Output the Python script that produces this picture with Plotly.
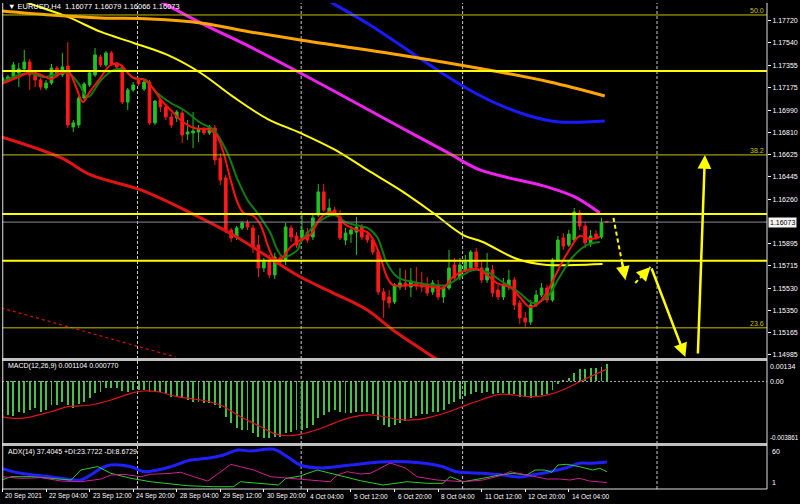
import plotly.graph_objects as go

# ---------------- data ----------------
bar_idx = list(range(112))

open_ = [1.17220, 1.17237, 1.17253, 1.17294, 1.17327, 1.17384, 1.17278, 1.17237, 1.17171, 1.17212,
         1.17335, 1.17278, 1.17351, 1.16852, 1.16868, 1.17089, 1.17196, 1.17278, 1.17425, 1.17360,
         1.17458, 1.17376, 1.17343, 1.17056, 1.17155, 1.17237, 1.17163, 1.17220, 1.16885, 1.17073,
         1.17016, 1.16934, 1.16926, 1.16967, 1.16795, 1.16803, 1.16811, 1.16835, 1.16803, 1.16844,
         1.16598, 1.16434, 1.16008, 1.15951, 1.16025, 1.16066, 1.16025, 1.15885, 1.15697, 1.15746,
         1.15640, 1.15779, 1.15763, 1.16025, 1.15959, 1.15951, 1.15991, 1.15951, 1.16131, 1.16320,
         1.16156, 1.16172, 1.16115, 1.15926, 1.15975, 1.15991, 1.16033, 1.15967, 1.15926, 1.15828,
         1.15501, 1.15460, 1.15419, 1.15541, 1.15574, 1.15541, 1.15574, 1.15574, 1.15558, 1.15501,
         1.15558, 1.15460, 1.15533, 1.15722, 1.15623, 1.15681, 1.15697, 1.15828, 1.15697, 1.15599,
         1.15681, 1.15517, 1.15460, 1.15541, 1.15599, 1.15411, 1.15288, 1.15255, 1.15394, 1.15476,
         1.15533, 1.15435, 1.15763, 1.15943, 1.15885, 1.15926, 1.16147, 1.16041, 1.15894, 1.15975,
         1.15951, 1.16077]
high_ = [1.17278, 1.17278, 1.17384, 1.17376, 1.17483, 1.17409, 1.17294, 1.17253, 1.17237, 1.17368,
         1.17351, 1.17458, 1.17548, 1.16909, 1.17106, 1.17220, 1.17311, 1.17499, 1.17442, 1.17474,
         1.17474, 1.17384, 1.17360, 1.17171, 1.17220, 1.17253, 1.17237, 1.17237, 1.17073, 1.17089,
         1.17032, 1.16967, 1.16991, 1.16991, 1.16909, 1.16975, 1.16868, 1.16852, 1.16868, 1.16868,
         1.16639, 1.16459, 1.16025, 1.16041, 1.16082, 1.16090, 1.16049, 1.15967, 1.15779, 1.15804,
         1.15820, 1.15804, 1.16066, 1.16049, 1.15991, 1.16131, 1.16025, 1.16131, 1.16385, 1.16385,
         1.16262, 1.16197, 1.16172, 1.16025, 1.16041, 1.16115, 1.16057, 1.15991, 1.15951, 1.15845,
         1.15533, 1.15517, 1.15574, 1.15697, 1.15681, 1.15697, 1.15705, 1.15664, 1.15623, 1.15599,
         1.15599, 1.15558, 1.15845, 1.15779, 1.15779, 1.15804, 1.15845, 1.15861, 1.15746, 1.15820,
         1.15722, 1.15558, 1.15615, 1.15681, 1.15623, 1.15435, 1.15337, 1.15435, 1.15517, 1.15574,
         1.15558, 1.15779, 1.15959, 1.15983, 1.16008, 1.16188, 1.16172, 1.16074, 1.16008, 1.16008,
         1.16107, 1.16079]
low_ = [1.17196, 1.17220, 1.17237, 1.17179, 1.17319, 1.17155, 1.17179, 1.17155, 1.17155, 1.17196,
        1.17261, 1.17261, 1.16844, 1.16811, 1.16844, 1.17073, 1.17179, 1.17261, 1.17343, 1.17343,
        1.17351, 1.17327, 1.17040, 1.16991, 1.17139, 1.17188, 1.17147, 1.16868, 1.16868, 1.16975,
        1.16909, 1.16844, 1.16893, 1.16721, 1.16745, 1.16680, 1.16729, 1.16786, 1.16786, 1.16541,
        1.16377, 1.15983, 1.15910, 1.15926, 1.16008, 1.16008, 1.15820, 1.15623, 1.15664, 1.15615,
        1.15607, 1.15722, 1.15722, 1.15910, 1.15861, 1.15926, 1.15902, 1.15926, 1.16115, 1.16156,
        1.16131, 1.16123, 1.15926, 1.15885, 1.15902, 1.15804, 1.15926, 1.15902, 1.15804, 1.15476,
        1.15288, 1.15369, 1.15402, 1.15517, 1.15517, 1.15460, 1.15517, 1.15501, 1.15468, 1.15476,
        1.15435, 1.15411, 1.15517, 1.15582, 1.15599, 1.15664, 1.15664, 1.15681, 1.15574, 1.15574,
        1.15460, 1.15435, 1.15435, 1.15517, 1.15353, 1.15238, 1.15214, 1.15230, 1.15378, 1.15460,
        1.15411, 1.15419, 1.15746, 1.15845, 1.15869, 1.15910, 1.16008, 1.15861, 1.15869, 1.15926,
        1.15935, 1.16066]
close_ = [1.17253, 1.17261, 1.17360, 1.17327, 1.17384, 1.17278, 1.17237, 1.17179, 1.17212, 1.17335,
          1.17278, 1.17343, 1.16868, 1.16885, 1.17089, 1.17204, 1.17294, 1.17442, 1.17360, 1.17458,
          1.17368, 1.17343, 1.17056, 1.17155, 1.17196, 1.17204, 1.17220, 1.16885, 1.17064, 1.17016,
          1.16934, 1.16868, 1.16975, 1.16786, 1.16811, 1.16819, 1.16835, 1.16803, 1.16852, 1.16582,
          1.16418, 1.16008, 1.15943, 1.16025, 1.16066, 1.16033, 1.15869, 1.15697, 1.15746, 1.15640,
          1.15787, 1.15746, 1.16033, 1.15951, 1.15885, 1.16008, 1.15926, 1.16107, 1.16320, 1.16172,
          1.16188, 1.16147, 1.15943, 1.15983, 1.16008, 1.16033, 1.15951, 1.15926, 1.15828, 1.15501,
          1.15435, 1.15411, 1.15558, 1.15574, 1.15549, 1.15591, 1.15549, 1.15541, 1.15492, 1.15574,
          1.15460, 1.15533, 1.15697, 1.15615, 1.15722, 1.15746, 1.15828, 1.15705, 1.15599, 1.15697,
          1.15492, 1.15460, 1.15558, 1.15599, 1.15394, 1.15288, 1.15255, 1.15394, 1.15476, 1.15533,
          1.15435, 1.15763, 1.15926, 1.15877, 1.15975, 1.16156, 1.16041, 1.15902, 1.15959, 1.15951,
          1.16066, 1.16073]

# moving averages on the price chart (bar position, price)
orange_idx = [-0.2, 8.9, 18.1, 27.2, 36.4, 45.5, 54.7, 73.0, 91.3, 100.5, 110.6]
orange_val = [1.17802, 1.17769, 1.17745, 1.17736, 1.17704, 1.17630, 1.17564, 1.17442, 1.17302, 1.17220, 1.17106]
blue_idx = [54.7, 60.2, 67.5, 74.9, 80.4, 85.8, 91.3, 96.8, 102.3, 110.6]
blue_val = [1.18015, 1.17876, 1.17687, 1.17466, 1.17302, 1.17155, 1.17032, 1.16942, 1.16893, 1.16901]
magenta_idx = [21.7, 28.5, 36.4, 45.5, 54.7, 63.9, 73.0, 82.2, 87.7, 100.0, 105.1, 109.7]
magenta_val = [1.18056, 1.17892, 1.17704, 1.17507, 1.17294, 1.17073, 1.16852, 1.16631, 1.16500, 1.16361, 1.16279, 1.16147]
yellow_idx = [-0.2, 3.4, 12.0, 18.1, 24.1, 30.3, 36.4, 42.4, 48.7, 54.7, 61.1, 67.0, 73.0, 79.1, 84.6, 88.2, 94.5, 100.0, 105.1, 110.2]
yellow_val = [1.17990, 1.17892, 1.17753, 1.17630, 1.17540, 1.17442, 1.17294, 1.17098, 1.16917, 1.16803, 1.16664,
              1.16500, 1.16336, 1.16147, 1.15967, 1.15910, 1.15771, 1.15722, 1.15722, 1.15730]
redlong_idx = [-0.2, 10.8, 16.2, 25.4, 34.6, 42.4, 50.5, 54.7, 60.8, 67.0, 71.7, 79.4, 81.3]
redlong_val = [1.16770, 1.16598, 1.16459, 1.16336, 1.16147, 1.15967, 1.15738, 1.15623, 1.15492, 1.15353, 1.15189, 1.14960, 1.14903]
redfast_idx = [-0.2, 2.9, 5.3, 7.1, 8.9, 10.8, 12.2, 13.5, 14.8, 15.9, 18.1, 19.9, 21.7, 23.0, 24.1, 26.0, 27.6,
               29.1, 30.9, 32.7, 35.1, 38.2, 39.5, 40.6, 41.9, 43.2, 44.3, 46.1, 47.4, 48.7, 49.8, 51.0, 52.9,
               54.7, 56.5, 58.4, 60.2, 61.5, 62.6, 65.1, 67.0, 68.1, 69.4, 70.6, 71.7, 75.4, 79.1, 80.9, 82.7,
               85.3, 87.1, 89.0, 90.8, 93.2, 95.0, 96.8, 98.7, 100.5, 102.3, 104.2, 106.0, 107.8, 109.7]
redfast_val = [1.17204, 1.17261, 1.17302, 1.17278, 1.17245, 1.17294, 1.17302, 1.17179, 1.17056, 1.17130, 1.17261,
               1.17360, 1.17360, 1.17294, 1.17253, 1.17237, 1.17171, 1.17073, 1.16991, 1.16909, 1.16844, 1.16827,
               1.16770, 1.16639, 1.16418, 1.16229, 1.16147, 1.16123, 1.16049, 1.15885, 1.15779, 1.15763, 1.15869,
               1.15926, 1.15967, 1.16107, 1.16156, 1.16131, 1.16066, 1.16008, 1.15991, 1.15926, 1.15787, 1.15623,
               1.15558, 1.15558, 1.15541, 1.15533, 1.15623, 1.15681, 1.15689, 1.15640, 1.15574, 1.15541, 1.15460,
               1.15378, 1.15419, 1.15541, 1.15705, 1.15853, 1.15959, 1.15935, 1.15951]
greenfast_idx = [-0.2, 4.7, 7.6, 12.0, 13.9, 15.7, 18.1, 20.5, 22.3, 24.1, 26.3, 28.2, 30.9, 33.3, 36.4, 38.8,
                 41.3, 43.2, 45.0, 46.8, 49.2, 50.5, 51.6, 54.2, 54.7, 57.8, 60.8, 63.3, 67.0, 68.8, 70.6, 72.5,
                 75.4, 79.1, 81.6, 84.0, 86.4, 89.0, 91.3, 95.0, 97.4, 100.0, 102.3, 104.7, 107.3, 109.7]
greenfast_val = [1.17220, 1.17294, 1.17261, 1.17294, 1.17212, 1.17098, 1.17237, 1.17319, 1.17319, 1.17253, 1.17237,
                 1.17139, 1.17048, 1.16991, 1.16885, 1.16827, 1.16639, 1.16418, 1.16254, 1.16147, 1.15983, 1.15845,
                 1.15787, 1.15845, 1.15902, 1.16066, 1.16131, 1.16066, 1.16025, 1.15951, 1.15738, 1.15623, 1.15582,
                 1.15558, 1.15558, 1.15623, 1.15681, 1.15664, 1.15599, 1.15492, 1.15411, 1.15460, 1.15623, 1.15787,
                 1.15885, 1.15910]
trend_idx = [-0.2, 31.8]
trend_val = [1.15370, 1.14968]

# horizontal levels
thick_levels = [1.17311, 1.16140, 1.15756]
fib_levels = [1.17769, 1.16623, 1.15207]
fib_labels = ["50.0", "38.2", "23.6"]
last_price = 1.16073
separator_idx = [24.8, 54.85, 84.5, 120.2]

# forecast arrows: (tail idx, tail price, tip idx, tip price, dashed)
arrows = [(112.2, 1.16107, 114.4, 1.15599, True),
          (116.2, 1.15574, 119.0, 1.15705, True),
          (119.1, 1.15705, 125.4, 1.14968, False),
          (127.7, 1.14985, 129.0, 1.16623, False)]

price_ticks = [1.17720, 1.17540, 1.17355, 1.17175, 1.16990, 1.16810, 1.16625, 1.16445, 1.16260,
               1.15895, 1.15715, 1.15530, 1.15350, 1.15165, 1.14985]
time_tick_idx = [0, 8, 16, 24, 32, 40, 48, 56, 64, 72, 80, 88, 96, 104]
time_tick_text = ["20 Sep 2021", "22 Sep 04:00", "23 Sep 12:00", "24 Sep 20:00", "28 Sep 04:00",
                  "29 Sep 12:00", "30 Sep 20:00", "4 Oct 04:00", "5 Oct 12:00", "6 Oct 20:00",
                  "8 Oct 04:00", "11 Oct 12:00", "12 Oct 20:00", "14 Oct 04:00"]

# MACD(12,26,9)
macd_main = [-0.002309, -0.002100, -0.002163, -0.001891, -0.001996, -0.001787, -0.001682, -0.001891, -0.001787, -0.001473,
             -0.001473, -0.001264, -0.001473, -0.001682, -0.001432, -0.001264, -0.001055, -0.000742, -0.000637, -0.000428,
             -0.000428, -0.000428, -0.000596, -0.000637, -0.000533, -0.000533, -0.000533, -0.000637, -0.000679, -0.000637,
             -0.000742, -0.000951, -0.000888, -0.001055, -0.001160, -0.001264, -0.001264, -0.001369, -0.001369, -0.001473,
             -0.001682, -0.002205, -0.002623, -0.002936, -0.003041, -0.003041, -0.003250, -0.003459, -0.003563, -0.003563,
             -0.003459, -0.003459, -0.003250, -0.003145, -0.003041, -0.003047, -0.002922, -0.002734, -0.002295, -0.002107,
             -0.001919, -0.001793, -0.001919, -0.001981, -0.001981, -0.001919, -0.001919, -0.001919, -0.002044, -0.002420,
             -0.002734, -0.002859, -0.002734, -0.002608, -0.002483, -0.002295, -0.002169, -0.002044, -0.002044, -0.001919,
             -0.001919, -0.001793, -0.001417, -0.001292, -0.001104, -0.000915, -0.000790, -0.000665, -0.000727, -0.000665,
             -0.000790, -0.000727, -0.000746, -0.000853, -0.000809, -0.000959, -0.000959, -0.001060, -0.000959, -0.000853,
             -0.000809, -0.000539, -0.000182, 0.000088, 0.000232, 0.000508, 0.000777, 0.000777, 0.000821, 0.000859,
             0.000922, 0.001104]
macd_sig_idx = [-0.2, 3.4, 8.9, 12.0, 16.2, 19.9, 24.2, 26.0, 28.5, 32.1, 36.4, 40.0, 43.7, 47.4, 49.8, 52.3, 54.7,
                58, 61, 64, 67, 70, 73, 76, 79, 82, 85, 88, 91.3, 97.4, 100.5, 103.6, 106.6, 111]
macd_sig_val = [-0.002213, -0.002314, -0.001900, -0.001586, -0.001480, -0.001166, -0.000683, -0.000602, -0.000646,
                -0.000959, -0.001166, -0.001480, -0.002213, -0.002840, -0.003254, -0.003405, -0.003317,
                -0.003000, -0.002600, -0.002250, -0.002100, -0.002200, -0.002400, -0.002400, -0.002200, -0.001900,
                -0.001500, -0.001150, -0.000809, -0.000959, -0.000809, -0.000433, 0.000088, 0.000770]

# ADX(14)
adx_idx = [-0.2, 3.4, 7.1, 10.8, 14.4, 16.2, 18.1, 19.9, 23.6, 26.0, 28.5, 30.9, 34.6, 37.7, 40.6, 43.2, 45.6, 49.8,
           52.3, 54.7, 58.4, 63.9, 69.4, 74.9, 80.4, 83.4, 88.2, 91.9, 95.0, 97.4, 100.5, 103.6, 106.0, 108.4, 111]
adx_val = [28.7, 21.6, 18.3, 14.6, 12.2, 19.3, 28.7, 33.3, 30.9, 23.9, 26.3, 30.9, 40.3, 42.7, 47.3, 54.4, 53.0, 55.4,
           45.0, 33.3, 29.1, 33.3, 37.5, 37.5, 31.9, 23.9, 21.6, 19.3, 16.5, 19.3, 23.9, 29.5, 35.7, 35.7, 37.4]
pdi_idx = [-0.2, 1.6, 5.3, 8.9, 12.6, 14.4, 16.2, 17.5, 19.9, 23.6, 27.2, 30.3, 34.0, 38.8, 42.4, 43.7, 47.4, 50.7,
           52.0, 54.7, 57.8, 61.5, 65.7, 69.9, 74.3, 78.0, 80.9, 82.2, 84.6, 88.2, 91.3, 93.7, 96.3, 97.8, 99.6,
           100.9, 102.0, 103.6, 106.0, 108.4, 109.7, 111]
pdi_val = [12.2, 16.9, 16.9, 14.6, 12.2, 26.3, 28.7, 31.1, 21.6, 14.6, 9.8, 7.6, 4.2, 2.8, 2.8, 9.8, 7.6, 5.2,
           14.3, 17.9, 26.3, 19.3, 11.3, 5.2, 9.8, 7.6, 7.6, 16.9, 9.8, 14.6, 19.3, 21.6, 19.3, 26.3, 26.3,
           23.1, 33.3, 34.3, 30.9, 26.3, 28.7, 23.8]
mdi_idx = [-0.2, 3.4, 7.1, 10.8, 14.4, 18.1, 19.9, 22.3, 25.4, 27.2, 30.9, 32.7, 35.1, 37.7, 40.1, 41.9, 43.7, 46.1,
           49.2, 52.9, 55.3, 60.2, 61.5, 63.3, 65.7, 67.5, 68.8, 71.2, 74.0, 76.1, 79.8, 84.6, 88.2, 91.9, 93.2,
           95.6, 98.1, 100.0, 102.3, 104.2, 106.0, 107.8, 111]
mdi_val = [16.9, 14.6, 15.5, 10.8, 9.8, 13.6, 19.3, 20.2, 16.9, 20.2, 21.6, 23.1, 16.9, 10.8, 23.9, 34.3, 30.9, 26.3,
           16.9, 14.6, 12.2, 9.8, 19.3, 23.9, 20.7, 21.6, 26.3, 36.1, 29.1, 16.9, 12.2, 9.8, 12.2, 19.3, 23.9,
           20.2, 16.9, 13.6, 13.6, 12.2, 14.6, 10.8, 8.7]

# ---------------- layout helpers ----------------
W, H = 800, 504
ML, MR, MT, MB = 2, 31, 3, 15
PLOT_H = H - MT - MB


def py(px):
    return (H - MB - px) / PLOT_H


FONT = "Liberation Sans"
XR = [-0.09, 140.4]

fig = go.Figure()

fig.add_trace(go.Candlestick(
    x=bar_idx, open=open_, high=high_, low=low_, close=close_,
    increasing=dict(line=dict(color="#22c322", width=1), fillcolor="#22c322"),
    decreasing=dict(line=dict(color="#ff1a1a", width=1), fillcolor="#ff1a1a"),
    whiskerwidth=0, xaxis="x", yaxis="y", hoverinfo="skip", showlegend=False))


def line(xs, ys, color, width, ax="x", ay="y", dash=None, shape="linear"):
    fig.add_trace(go.Scatter(x=xs, y=ys, mode="lines", xaxis=ax, yaxis=ay,
                             line=dict(color=color, width=width, dash=dash, shape=shape),
                             hoverinfo="skip", showlegend=False, cliponaxis=True))


line(trend_idx, trend_val, "#d01010", 1.2, dash="dot")
line(redlong_idx, redlong_val, "#e01414", 3, shape="spline")
line(yellow_idx, yellow_val, "#ffff00", 2, shape="spline")
line(magenta_idx, magenta_val, "#ee22ee", 3, shape="spline")
line(blue_idx, blue_val, "#1a1aff", 3, shape="spline")
line(orange_idx, orange_val, "#ffa500", 3, shape="spline")
line(greenfast_idx, greenfast_val, "#0f7d0f", 2, shape="spline")
line(redfast_idx, redfast_val, "#ff1010", 2, shape="spline")

# MACD pane
fig.add_trace(go.Bar(x=bar_idx, y=macd_main, width=0.17, marker=dict(color="#46c046", line=dict(width=0)),
                     xaxis="x2", yaxis="y2", hoverinfo="skip", showlegend=False))
line(macd_sig_idx, macd_sig_val, "#e01414", 1.2, ax="x2", ay="y2", shape="spline")

# ADX pane
line(adx_idx, adx_val, "#2020ff", 3, ax="x3", ay="y3", shape="spline")
line(pdi_idx, pdi_val, "#2ecc2e", 1, ax="x3", ay="y3")
line(mdi_idx, mdi_val, "#d0208e", 1, ax="x3", ay="y3")

shapes = []
for lv in thick_levels:
    shapes.append(dict(type="line", xref="paper", x0=0, x1=1, yref="y", y0=lv, y1=lv,
                       line=dict(color="#ffff00", width=2)))
for lv in fib_levels:
    shapes.append(dict(type="line", xref="paper", x0=0, x1=1, yref="y", y0=lv, y1=lv,
                       line=dict(color="#c8c200", width=1)))
shapes.append(dict(type="line", xref="paper", x0=0, x1=1, yref="y", y0=last_price, y1=last_price,
                   line=dict(color="#8a8a9a", width=1)))
shapes.append(dict(type="line", xref="paper", x0=0, x1=1, yref="y2", y0=0, y1=0,
                   line=dict(color="#b0b0b0", width=1, dash="2px,2px")))
for s in separator_idx:
    shapes.append(dict(type="line", xref="x", x0=s, x1=s, yref="paper", y0=0, y1=1,
                       line=dict(color="#c8c8c8", width=1, dash="3px,2px"), layer="below"))
for top_px in (358, 443):
    shapes.append(dict(type="rect", xref="paper", x0=0, x1=1, yref="paper", y0=py(top_px + 3), y1=py(top_px),
                       fillcolor="#c0c0c0", line=dict(width=0)))
shapes.append(dict(type="line", xref="paper", x0=0.001, x1=0.001, yref="paper", y0=0, y1=1,
                   line=dict(color="#e0e0e0", width=1)))
shapes.append(dict(type="line", xref="paper", x0=1, x1=1, yref="paper", y0=0, y1=1,
                   line=dict(color="#e0e0e0", width=1)))
shapes.append(dict(type="line", xref="paper", x0=0, x1=1, yref="paper", y0=0, y1=0,
                   line=dict(color="#e0e0e0", width=1)))
for (tx, tyv, hx, hy, dashed) in arrows:
    if dashed:
        shapes.append(dict(type="line", xref="x", yref="y", x0=tx, y0=tyv, x1=hx, y1=hy,
                           line=dict(color="#ffff00", width=2, dash="4px,3px")))

annotations = []
for (tx, tyv, hx, hy, dashed) in arrows:
    if dashed:
        ax0, ay0 = hx - (hx - tx) * 0.3, hy - (hy - tyv) * 0.3
    else:
        ax0, ay0 = tx, tyv
    annotations.append(dict(x=hx, y=hy, xref="x", yref="y", ax=ax0, ay=ay0, axref="x", ayref="y",
                            text="", showarrow=True, arrowhead=2, arrowsize=1.1, arrowwidth=2.5,
                            arrowcolor="#ffff00", standoff=0))

WHITE = "#ffffff"
annotations.append(dict(xref="paper", yref="paper", x=0, y=py(7), xanchor="left", yanchor="middle", xshift=4,
                        text="\u25bc EURUSD,H4  1.16077 1.16079 1.16066 1.16073", showarrow=False,
                        font=dict(family=FONT, size=7.5, color=WHITE)))
annotations.append(dict(xref="paper", yref="paper", x=0, y=py(366), xanchor="left", yanchor="middle", xshift=4,
                        text="MACD(12,26,9) 0.001104 0.000770", showarrow=False,
                        font=dict(family=FONT, size=7, color=WHITE)))
annotations.append(dict(xref="paper", yref="paper", x=0, y=py(452), xanchor="left", yanchor="middle", xshift=4,
                        text="ADX(14) 37.4045 +DI:23.7722 -DI:8.6729", showarrow=False,
                        font=dict(family=FONT, size=7, color=WHITE)))
for lv, lb in zip(fib_levels, fib_labels):
    annotations.append(dict(xref="paper", yref="y", x=1, y=lv, xanchor="right", yanchor="bottom", xshift=-1,
                            yshift=-1, text=lb, showarrow=False, font=dict(family=FONT, size=7, color="#c8c200")))
annotations.append(dict(xref="paper", yref="y", x=1, y=last_price, xanchor="left", yanchor="middle", xshift=1,
                        text="1.16073", showarrow=False, bgcolor="#f4f4f4", borderpad=1,
                        font=dict(family=FONT, size=7, color="#000000")))
for val, txt, anc, sz in [(0.00128, "0.00134", "top", 7), (0, "0.00", "middle", 7),
                          (-0.003861, "-0.003861", "bottom", 6.3)]:
    annotations.append(dict(xref="paper", yref="y2", x=1, y=val, xanchor="left", yanchor=anc, xshift=1,
                            text=txt, showarrow=False, font=dict(family=FONT, size=sz, color=WHITE)))
for val, txt, anc in [(60, "60", "top"), (1, "1", "bottom")]:
    annotations.append(dict(xref="paper", yref="y3", x=1, y=val, xanchor="left", yanchor=anc, xshift=3,
                            text=txt, showarrow=False, font=dict(family=FONT, size=7, color=WHITE)))
for ti, tt in zip(time_tick_idx, time_tick_text):
    annotations.append(dict(xref="x3", yref="paper", x=ti, y=py(496), xanchor="left", yanchor="middle", xshift=1,
                            text=tt, showarrow=False, font=dict(family=FONT, size=6.5, color=WHITE)))

axis_common = dict(showgrid=False, zeroline=False, showline=False, range=XR, fixedrange=True)
fig.update_layout(
    width=W, height=H,
    margin=dict(l=ML, r=MR, t=MT, b=MB),
    paper_bgcolor="#000000", plot_bgcolor="#000000",
    showlegend=False, bargap=0,
    xaxis=dict(domain=[0, 1], anchor="y", showticklabels=False, rangeslider=dict(visible=False), **axis_common),
    xaxis2=dict(domain=[0, 1], anchor="y2", showticklabels=False, matches="x", **axis_common),
    xaxis3=dict(domain=[0, 1], anchor="y3", showticklabels=False, matches="x", ticks="outside",
                tickvals=time_tick_idx, ticklen=3, tickcolor=WHITE, **axis_common),
    yaxis=dict(domain=[py(358), 1.0], range=[1.14960, 1.17867], side="right", showgrid=False, zeroline=False,
               tickvals=price_ticks, ticktext=["%.5f" % v for v in price_ticks], ticks="outside", ticklen=3,
               tickcolor=WHITE, tickfont=dict(family=FONT, size=7, color=WHITE), fixedrange=True),
    yaxis2=dict(domain=[py(443), py(361)], range=[-0.003861, 0.00128], showgrid=False, zeroline=False,
                showticklabels=False, fixedrange=True),
    yaxis3=dict(domain=[py(488), py(446)], range=[1, 60], showgrid=False, zeroline=False,
                showticklabels=False, fixedrange=True),
    shapes=shapes, annotations=annotations,
)

fig.write_html("out.html", config={"displayModeBar": False},
               post_script="document.body.style.margin='0px';document.body.style.backgroundColor='#000000';"
                           "document.body.style.overflow='hidden';")
